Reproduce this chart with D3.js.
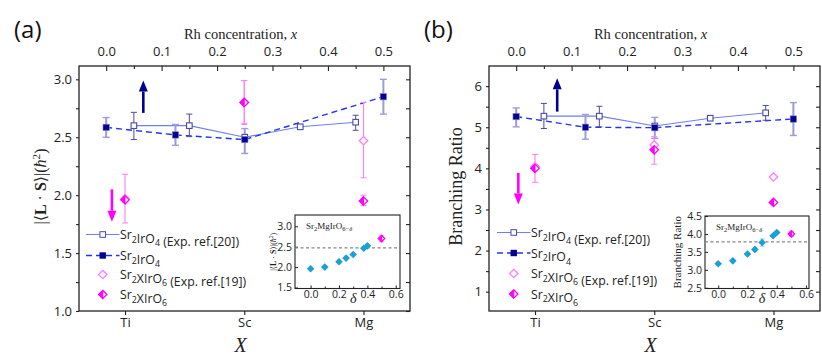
<!DOCTYPE html>
<html><head><meta charset="utf-8">
<script src="https://cdn.jsdelivr.net/npm/d3@7"></script>
<style>
body{margin:0;background:#fff;}
svg{display:block;}
text{font-family:"Open Sans",sans-serif;}
.serif{font-family:"Liberation Serif","DejaVu Serif",serif;}
</style></head>
<body>
<svg id="chart" width="822" height="358"></svg>
<script>
// ---------- DATA ----------
const categories = ["Ti", "Sc", "Mg"];
const rhTicks = [0.0, 0.1, 0.2, 0.3, 0.4, 0.5];

// Sr2IrO4 experiment (ref. [20]) vs Rh concentration
const xIrO4Exp = [0.05, 0.15, 0.25, 0.35, 0.45];
const lsIrO4Exp = [2.60, 2.60, 2.50, 2.59, 2.63];
const lsIrO4ExpLo = [2.48, 2.505, 2.49, 2.585, 2.56];
const lsIrO4ExpHi = [2.715, 2.70, 2.51, 2.595, 2.69];
const brIrO4Exp = [5.27, 5.27, 5.03, 5.22, 5.35];
const brIrO4ExpLo = [4.97, 5.01, 5.02, 5.21, 5.17];
const brIrO4ExpHi = [5.58, 5.51, 5.04, 5.23, 5.53];

// Sr2IrO4 calculation
const xIrO4Calc = [0.0, 0.125, 0.25, 0.5];
const lsIrO4Calc = [2.585, 2.52, 2.48, 2.85];
const lsIrO4CalcLo = [2.50, 2.43, 2.36, 2.70];
const lsIrO4CalcHi = [2.67, 2.61, 2.575, 3.00];
const brIrO4Calc = [5.26, 5.00, 4.99, 5.20];
const brIrO4CalcLo = [5.01, 4.71, 4.73, 4.80];
const brIrO4CalcHi = [5.47, 5.31, 5.24, 5.60];

// Sr2XIrO6 experiment (ref. [19]) per X
const lsDblExp = [1.97, 2.80, 2.47];
const lsDblExpLo = [1.76, 2.62, 2.15];
const lsDblExpHi = [2.18, 2.99, 2.80];
const brDblExp = [4.04, 4.57, 3.79];
const brDblExpLo = [3.66, 4.57, 3.79];
const brDblExpHi = [4.34, 4.57, 3.79];

// Sr2XIrO6 calculation per X
const lsDblCalc = [1.96, 2.80, 1.95];
const lsDblCalcLo = [1.96, 2.61, 1.91];
const lsDblCalcHi = [1.96, 2.99, 2.00];
const brDblCalc = [4.00, 4.45, 3.17];
const brDblCalcLo = [4.00, 4.10, 3.17];
const brDblCalcHi = [4.00, 4.77, 3.17];

// Insets: Sr2MgIrO6-delta
const delta = [0.0, 0.1, 0.2, 0.25, 0.3, 0.375, 0.4];
const lsInset = [1.96, 2.00, 2.13, 2.22, 2.31, 2.46, 2.52];
const lsInsetErr = [0, 0, 0, 0, 0, 0, 0];
const brInset = [3.17, 3.25, 3.44, 3.57, 3.76, 3.95, 4.04];
const brInsetErr = [0, 0, 0, 0, 0.1, 0, 0];
const insetExpDelta = [0.5];
const lsInsetExp = [2.70], lsInsetExpErr = [0.08];
const brInsetExp = [4.00], brInsetExpErr = [0.07];
const lsInsetRef = 2.47, brInsetRef = 3.78;

const legendLabels = [
  ["Sr", ["2"], "IrO", ["4"], " (Exp. ref.[20])"],
  ["Sr", ["2"], "IrO", ["4"]],
  ["Sr", ["2"], "XIrO", ["6"], " (Exp. ref.[19])"],
  ["Sr", ["2"], "XIrO", ["6"]]
];

// ---------- STYLE ----------
const C = {
  navy: "#00008f", expSq: "#4a4aa8", solidLine: "#6f7ff0", dashLine: "#2233ee",
  calcErr: "#9c9cd6", mag: "#ff00ff", magLight: "#ff7dff", cyan: "#1a9fd8", cyanErr: "#8fd3f0"
};

const svg = d3.select("#chart");

function addSub(sel, parts, size) {
  parts.forEach(p => {
    if (Array.isArray(p)) {
      sel.append("tspan").attr("font-size", size * 0.72).attr("dy", size * 0.3).text(p[0]);
      sel.append("tspan").attr("dy", -size * 0.3).text("");
    } else sel.append("tspan").text(p);
  });
}

function diamond(g, x, y, r, kind) {
  const p = `M${x},${y - r}L${x + r},${y}L${x},${y + r}L${x - r},${y}Z`;
  if (kind === "open") {
    g.append("path").attr("d", p).attr("fill", "#fff").attr("stroke", C.magLight).attr("stroke-width", 1.3);
  } else {
    g.append("path").attr("d", p).attr("fill", "#fff").attr("stroke", C.mag).attr("stroke-width", 1.3);
    g.append("path").attr("d", `M${x},${y - r}L${x - r},${y}L${x},${y + r}Z`).attr("fill", C.mag).attr("stroke", C.mag).attr("stroke-width", 1);
  }
}

function errBar(g, x, y1, y2, color, w, cap) {
  if (Math.abs(y1 - y2) < 0.5) return;
  g.append("line").attr("x1", x).attr("x2", x).attr("y1", y1).attr("y2", y2).attr("stroke", color).attr("stroke-width", w);
  [y1, y2].forEach(yy => g.append("line").attr("x1", x - cap).attr("x2", x + cap).attr("y1", yy).attr("y2", yy).attr("stroke", color).attr("stroke-width", Math.max(1, w * 0.7)));
}

function arrow(g, x, y1, y2, color) {
  const dir = y2 < y1 ? -1 : 1;
  const head = 11;
  g.append("line").attr("x1", x).attr("x2", x).attr("y1", y1).attr("y2", y2 - dir * head)
    .attr("stroke", color).attr("stroke-width", 2.6);
  g.append("path").attr("d", `M${x - 4.5},${y2 - dir * head}L${x + 4.5},${y2 - dir * head}L${x},${y2}Z`).attr("fill", color);
}

function panel(cfg) {
  const { L, R, T, B } = cfg.box;
  const g = svg.append("g");
  const xTop = d3.scaleLinear().domain([-0.049, 0.548]).range([L, R]);
  const xCat = d3.scaleLinear().domain([0.614, 3.39]).range([L, R]);
  const y = d3.scaleLinear().domain(cfg.yDomain).range([B, T]);

  // frame
  g.append("rect").attr("x", L).attr("y", T).attr("width", R - L).attr("height", B - T)
    .attr("fill", "none").attr("stroke", "#222").attr("stroke-width", 1.3);

  // top axis (inward ticks)
  const topAx = g.append("g").attr("transform", `translate(0,${T})`)
    .call(d3.axisTop(xTop).tickValues(rhTicks).tickSize(-5).tickPadding(10).tickFormat(d3.format(".1f")));
  const topMinor = g.append("g").attr("transform", `translate(0,${T})`)
    .call(d3.axisTop(xTop).tickValues([0.05, 0.15, 0.25, 0.35, 0.45]).tickSize(-3).tickFormat(""));
  // bottom categorical axis
  const botAx = g.append("g").attr("transform", `translate(0,${B})`)
    .call(d3.axisBottom(xCat).tickValues([1, 2, 3]).tickSize(4).tickPadding(3).tickFormat((d, i) => categories[i]));
  // left axis
  const leftAx = g.append("g").attr("transform", `translate(${L},0)`)
    .call(d3.axisLeft(y).tickValues(cfg.yTicks).tickSize(3).tickPadding(4).tickFormat(cfg.yFmt));
  const leftMinor = g.append("g").attr("transform", `translate(${L},0)`)
    .call(d3.axisLeft(y).tickValues(cfg.yMinor).tickSize(3).tickFormat(""));
  // right axis inward
  const rightAx = g.append("g").attr("transform", `translate(${R},0)`)
    .call(d3.axisRight(y).tickValues(cfg.yTicks.concat(cfg.yMinor)).tickSize(-4).tickFormat(""));
  [topAx, topMinor, botAx, leftAx, leftMinor, rightAx].forEach(a => {
    a.select(".domain").remove();
    a.selectAll("line").attr("stroke", "#222").attr("stroke-width", 1.1);
    a.selectAll("text").attr("font-family", "Open Sans").attr("font-size", 13).attr("fill", "#222");
  });

  // axis titles
  const tt = g.append("text").attr("class", "serif").attr("x", (L + R) / 2 - 4).attr("y", 39)
    .attr("text-anchor", "middle").attr("font-size", 14.5).attr("fill", "#222");
  tt.append("tspan").text("Rh concentration, ");
  tt.append("tspan").attr("font-style", "italic").text("x");
  g.append("text").attr("class", "serif").attr("x", (L + R) / 2 - 4).attr("y", 352)
    .attr("text-anchor", "middle").attr("font-size", 20).attr("font-style", "italic").attr("fill", "#222").text("X");
  cfg.yTitle(g.append("text").attr("class", "serif")
    .attr("transform", `translate(${L - cfg.yTitleOff},${(T + B) / 2 - 2}) rotate(-90)`)
    .attr("text-anchor", "middle").attr("fill", "#222"));
  g.append("text").attr("x", cfg.labelX).attr("y", 38).attr("font-size", 24).attr("fill", "#111").text(cfg.label);

  // lines
  const lineExp = d3.line().x(d => xTop(d[0])).y(d => y(d[1]));
  g.append("path").datum(d3.zip(xIrO4Exp, cfg.exp)).attr("d", lineExp)
    .attr("fill", "none").attr("stroke", C.solidLine).attr("stroke-width", 1.1);
  g.append("path").datum(d3.zip(xIrO4Calc, cfg.calc)).attr("d", lineExp)
    .attr("fill", "none").attr("stroke", C.dashLine).attr("stroke-width", 1.4).attr("stroke-dasharray", "6,4");

  // squares with error bars
  xIrO4Exp.forEach((xv, i) => {
    errBar(g, xTop(xv), y(cfg.expLo[i]), y(cfg.expHi[i]), C.expSq, 1, 3);
  });
  xIrO4Calc.forEach((xv, i) => {
    errBar(g, xTop(xv), y(cfg.calcLo[i]), y(cfg.calcHi[i]), C.calcErr, 2, 3.5);
  });
  xIrO4Exp.forEach((xv, i) => {
    g.append("rect").attr("x", xTop(xv) - 2.8).attr("y", y(cfg.exp[i]) - 2.8).attr("width", 5.6).attr("height", 5.6)
      .attr("fill", "#fff").attr("stroke", C.expSq).attr("stroke-width", 1.1);
  });
  xIrO4Calc.forEach((xv, i) => {
    g.append("rect").attr("x", xTop(xv) - 3.2).attr("y", y(cfg.calc[i]) - 3.2).attr("width", 6.4).attr("height", 6.4)
      .attr("fill", C.navy).attr("stroke", "#8a8ad0").attr("stroke-width", 0.6);
  });

  // double perovskites
  categories.forEach((c, i) => {
    errBar(g, xCat(i + 1), y(cfg.dExpLo[i]), y(cfg.dExpHi[i]), C.magLight, 1.1, 3);
    errBar(g, xCat(i + 1), y(cfg.dCalcLo[i]), y(cfg.dCalcHi[i]), C.magLight, 1.1, 3);
  });
  categories.forEach((c, i) => {
    diamond(g, xCat(i + 1), y(cfg.dExp[i]), 4.2, "open");
    diamond(g, xCat(i + 1), y(cfg.dCalc[i]), 4.2, "half");
  });

  // arrows
  arrow(g, xTop(cfg.upArrow[0]), y(cfg.upArrow[1]), y(cfg.upArrow[2]), C.navy);
  arrow(g, xCat(cfg.downArrow[0]), y(cfg.downArrow[1]), y(cfg.downArrow[2]), C.mag);

  // legend
  const lg = cfg.legend;
  legendLabels.forEach((parts, i) => {
    const yy = lg.rows[i];
    if (i === 0) g.append("line").attr("x1", lg.x0).attr("x2", lg.x1).attr("y1", yy).attr("y2", yy).attr("stroke", C.solidLine).attr("stroke-width", 1.1);
    if (i === 1) g.append("line").attr("x1", lg.x0).attr("x2", lg.x1).attr("y1", yy).attr("y2", yy).attr("stroke", C.dashLine).attr("stroke-width", 1.4).attr("stroke-dasharray", "6,4");
    const mx = (lg.x0 + lg.x1) / 2;
    if (i === 0) g.append("rect").attr("x", mx - 2.8).attr("y", yy - 2.8).attr("width", 5.6).attr("height", 5.6).attr("fill", "#fff").attr("stroke", C.expSq);
    if (i === 1) g.append("rect").attr("x", mx - 3.2).attr("y", yy - 3.2).attr("width", 6.4).attr("height", 6.4).attr("fill", C.navy);
    if (i === 2) diamond(g, mx, yy, 4.2, "open");
    if (i === 3) diamond(g, mx, yy, 4.2, "half");
    const t = g.append("text").attr("x", lg.x1 + 0.5).attr("y", yy + 4.5).attr("font-size", 12.3).attr("fill", "#222");
    addSub(t, parts, 12.3);
  });

  // inset
  const ib = cfg.inset.box;
  const ig = g.append("g");
  const ix = d3.scaleLinear().domain(cfg.inset.xDomain).range([ib.L, ib.R]);
  const iy = d3.scaleLinear().domain(cfg.inset.yDomain).range([ib.B, ib.T]);
  ig.append("rect").attr("x", ib.L).attr("y", ib.T).attr("width", ib.R - ib.L).attr("height", ib.B - ib.T)
    .attr("fill", "#fff").attr("stroke", "#222").attr("stroke-width", 1.1);
  const ixAx = ig.append("g").attr("transform", `translate(0,${ib.B})`)
    .call(d3.axisBottom(ix).tickValues([0, 0.2, 0.4, 0.6]).tickSize(-3).tickPadding(2).tickFormat(d3.format(".1f")));
  const ixMinor = ig.append("g").attr("transform", `translate(0,${ib.B})`)
    .call(d3.axisBottom(ix).tickValues([0.1, 0.3, 0.5]).tickSize(-2).tickFormat(""));
  const iyAx = ig.append("g").attr("transform", `translate(${ib.L},0)`)
    .call(d3.axisLeft(iy).tickValues(cfg.inset.yTicks).tickSize(-3).tickPadding(3).tickFormat(d3.format(".1f")));
  [ixAx, ixMinor, iyAx].forEach(a => {
    a.select(".domain").remove();
    a.selectAll("line").attr("stroke", "#222");
    a.selectAll("text").attr("font-family", "Open Sans").attr("font-size", 10.5).attr("fill", "#222");
  });
  ig.append("line").attr("x1", ib.L).attr("x2", ib.R).attr("y1", iy(cfg.inset.ref)).attr("y2", iy(cfg.inset.ref))
    .attr("stroke", "#888").attr("stroke-width", 1.2).attr("stroke-dasharray", "3,2.5");
  delta.forEach((d, i) => {
    if (cfg.inset.err[i] > 0) errBar(ig, ix(d), iy(cfg.inset.vals[i] - cfg.inset.err[i]), iy(cfg.inset.vals[i] + cfg.inset.err[i]), C.cyanErr, 1.5, 2.5);
  });
  delta.forEach((d, i) => {
    const cx = ix(d), cy = iy(cfg.inset.vals[i]), r = 3.8;
    ig.append("path").attr("d", `M${cx},${cy - r}L${cx + r},${cy}L${cx},${cy + r}L${cx - r},${cy}Z`).attr("fill", C.cyan);
  });
  insetExpDelta.forEach((d, i) => {
    errBar(ig, ix(d), iy(cfg.inset.exp[i] - cfg.inset.expErr[i]), iy(cfg.inset.exp[i] + cfg.inset.expErr[i]), C.magLight, 1, 2.2);
    diamond(ig, ix(d), iy(cfg.inset.exp[i]), 3.2, "half");
  });
  const it = ig.append("text").attr("class", "serif").attr("x", ib.L + 11).attr("y", ib.T + 14).attr("font-size", 9).attr("fill", "#222");
  it.append("tspan").text("Sr");
  it.append("tspan").attr("font-size", 6.5).attr("dy", 2).text("2");
  it.append("tspan").attr("dy", -2).text("MgIrO");
  it.append("tspan").attr("font-size", 6.5).attr("dy", 2).text("6−");
  it.append("tspan").attr("font-size", 6.5).attr("font-style", "italic").text("δ");
  ig.append("text").attr("class", "serif").attr("x", ix(0.3)).attr("y", ib.B + 14).attr("text-anchor", "middle")
    .attr("font-size", 14).attr("font-style", "italic").attr("fill", "#222").text("δ");
  cfg.inset.yTitle(ig.append("text").attr("class", "serif")
    .attr("transform", `translate(${ib.L - cfg.inset.yTitleOff},${(ib.T + ib.B) / 2}) rotate(-90)`)
    .attr("text-anchor", "middle").attr("fill", "#222"));
}

function lsTitle(size) {
  return t => {
    t.attr("font-size", size);
    t.append("tspan").text("|⟨");
    t.append("tspan").attr("font-weight", "bold").text("L");
    t.append("tspan").text(" · ");
    t.append("tspan").attr("font-weight", "bold").text("S");
    t.append("tspan").text("⟩|(");
    t.append("tspan").attr("font-style", "italic").text("ħ");
    t.append("tspan").attr("font-size", size * 0.7).attr("dy", -size * 0.4).text("2");
    t.append("tspan").attr("dy", size * 0.4).text(")");
  };
}

panel({
  box: { L: 79, R: 410, T: 66, B: 311 },
  yDomain: [1.0, 3.115], yTicks: [1.0, 1.5, 2.0, 2.5, 3.0], yMinor: [1.25, 1.75, 2.25, 2.75],
  yFmt: d3.format(".1f"), yTitleOff: 33, yTitle: lsTitle(16),
  label: "(a)", labelX: 14,
  exp: lsIrO4Exp, expLo: lsIrO4ExpLo, expHi: lsIrO4ExpHi,
  calc: lsIrO4Calc, calcLo: lsIrO4CalcLo, calcHi: lsIrO4CalcHi,
  dExp: lsDblExp, dExpLo: lsDblExpLo, dExpHi: lsDblExpHi,
  dCalc: lsDblCalc, dCalcLo: lsDblCalcLo, dCalcHi: lsDblCalcHi,
  upArrow: [0.067, 2.71, 2.99], downArrow: [0.89, 2.05, 1.77],
  legend: { x0: 86, x1: 119.5, rows: [234.5, 255.5, 274.5, 294.5] },
  inset: {
    box: { L: 295, R: 400, T: 215, B: 288.5 }, xDomain: [-0.11, 0.63], yDomain: [1.476, 3.276],
    yTicks: [1.5, 2.0, 2.5, 3.0], vals: lsInset, err: lsInsetErr, exp: lsInsetExp, expErr: lsInsetExpErr,
    ref: lsInsetRef, yTitleOff: 19, yTitle: lsTitle(8)
  }
});

panel({
  box: { L: 489, R: 820, T: 66, B: 311 },
  yDomain: [0.53, 6.49], yTicks: [1, 2, 3, 4, 5, 6], yMinor: [1.5, 2.5, 3.5, 4.5, 5.5],
  yFmt: d3.format("d"), yTitleOff: 27, yTitle: t => t.attr("font-size", 18).text("Branching Ratio"),
  label: "(b)", labelX: 424,
  exp: brIrO4Exp, expLo: brIrO4ExpLo, expHi: brIrO4ExpHi,
  calc: brIrO4Calc, calcLo: brIrO4CalcLo, calcHi: brIrO4CalcHi,
  dExp: brDblExp, dExpLo: brDblExpLo, dExpHi: brDblExpHi,
  dCalc: brDblCalc, dCalcLo: brDblCalcLo, dCalcHi: brDblCalcHi,
  upArrow: [0.074, 5.38, 6.19], downArrow: [0.86, 3.89, 3.12],
  legend: { x0: 497, x1: 530.5, rows: [232.5, 253, 273.5, 294] },
  inset: {
    box: { L: 705, R: 809, T: 216, B: 288.5 }, xDomain: [-0.09, 0.62], yDomain: [2.48, 4.5],
    yTicks: [2.5, 3.0, 3.5, 4.0, 4.5], vals: brInset, err: brInsetErr, exp: brInsetExp, expErr: brInsetExpErr,
    ref: brInsetRef, yTitleOff: 24, yTitle: t => t.attr("font-size", 11).text("Branching Ratio")
  }
});
</script>
</body></html>
